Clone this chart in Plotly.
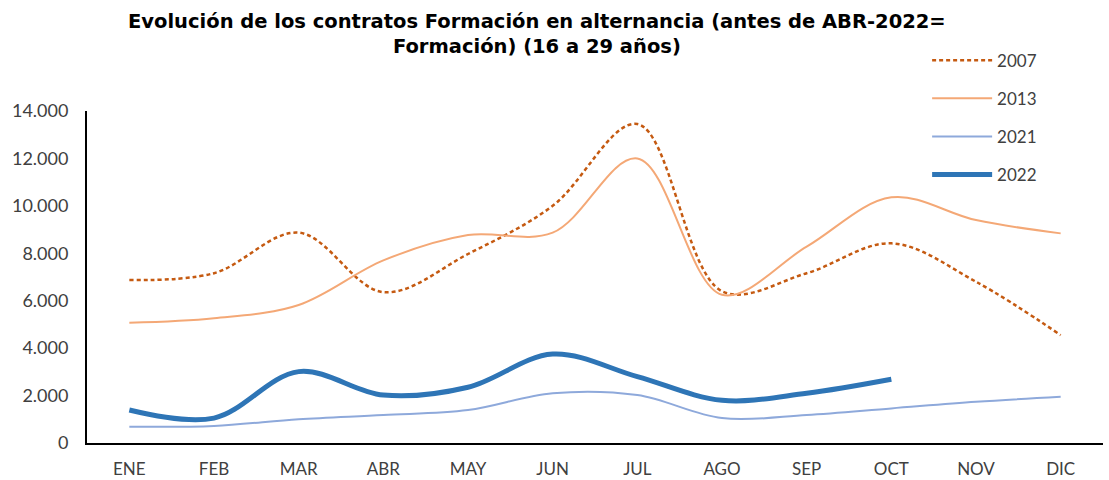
import plotly.graph_objects as go

months = ["ENE", "FEB", "MAR", "ABR", "MAY", "JUN", "JUL", "AGO", "SEP", "OCT", "NOV", "DIC"]
s2007 = [6870, 7160, 8870, 6360, 7970, 10000, 13450, 6400, 7160, 8420, 6800, 4550]
s2013 = [5070, 5260, 5820, 7700, 8770, 8870, 12000, 6250, 8280, 10360, 9400, 8840]
s2021 = [690, 720, 1000, 1180, 1390, 2100, 2020, 1050, 1180, 1460, 1740, 1950]
s2022 = [1390, 1050, 3010, 2020, 2350, 3750, 2800, 1800, 2100, 2690]
y_ticks = [0, 2000, 4000, 6000, 8000, 10000, 12000, 14000]
title_text = "<b>Evolución de los contratos Formación en alternancia (antes de ABR-2022=<br>Formación) (16 a 29 años)</b>"

FONT = "Lato"
TXT = "#404040"

fig = go.Figure()
fig.add_trace(go.Scatter(x=months, y=s2007, name="2007", mode="lines", legendgroup="a",
                         line=dict(color="#C55A11", width=2.5, dash="4px,3px", shape="spline")))
fig.add_trace(go.Scatter(x=months, y=s2013, name="2013", mode="lines", legendgroup="b",
                         line=dict(color="#F4A876", width=2, shape="spline")))
fig.add_trace(go.Scatter(x=months, y=s2021, name="2021", mode="lines", legendgroup="c",
                         line=dict(color="#8EA9DB", width=2, shape="spline")))
fig.add_trace(go.Scatter(x=months[:len(s2022)], y=s2022, name="2022", mode="lines", legendgroup="d",
                         line=dict(color="#2E75B6", width=5, shape="spline")))

fig.add_annotation(text=title_text, xref="paper", yref="paper", x=0.443, y=1.153,
                   xanchor="center", yanchor="bottom", showarrow=False, align="center",
                   font=dict(family="DejaVu Sans", size=19.5, color="#000000"))

fig.update_layout(
    width=1109, height=480,
    margin=dict(l=87, r=6, t=111, b=37, autoexpand=False),
    paper_bgcolor="white", plot_bgcolor="white",
    separators=",.",
    font=dict(family=FONT, color=TXT, size=15),
    legend=dict(x=0.836, y=0.911, xref="container", yref="container", xanchor="left", yanchor="top",
                bgcolor="rgba(0,0,0,0)",
                font=dict(family=FONT, size=17, color=TXT), tracegroupgap=13, itemwidth=60),
    xaxis=dict(type="category", range=[-0.5, 11.5], showgrid=False, showline=True, linecolor="#000000",
               linewidth=2, ticks="outside", ticklen=10, tickcolor="rgba(0,0,0,0)",
               tickfont=dict(family=FONT, size=17, color=TXT), fixedrange=True),
    yaxis=dict(range=[0, 14000], tickvals=y_ticks, tickformat=",d", showgrid=False, showline=True,
               linecolor="#000000", linewidth=2, ticks="outside", ticklen=13, tickcolor="rgba(0,0,0,0)",
               tickfont=dict(family=FONT, size=18, color=TXT), zeroline=False),
)

fig.write_html("out.html", config={"displayModeBar": False},
               post_script="document.body.style.margin='0';")
